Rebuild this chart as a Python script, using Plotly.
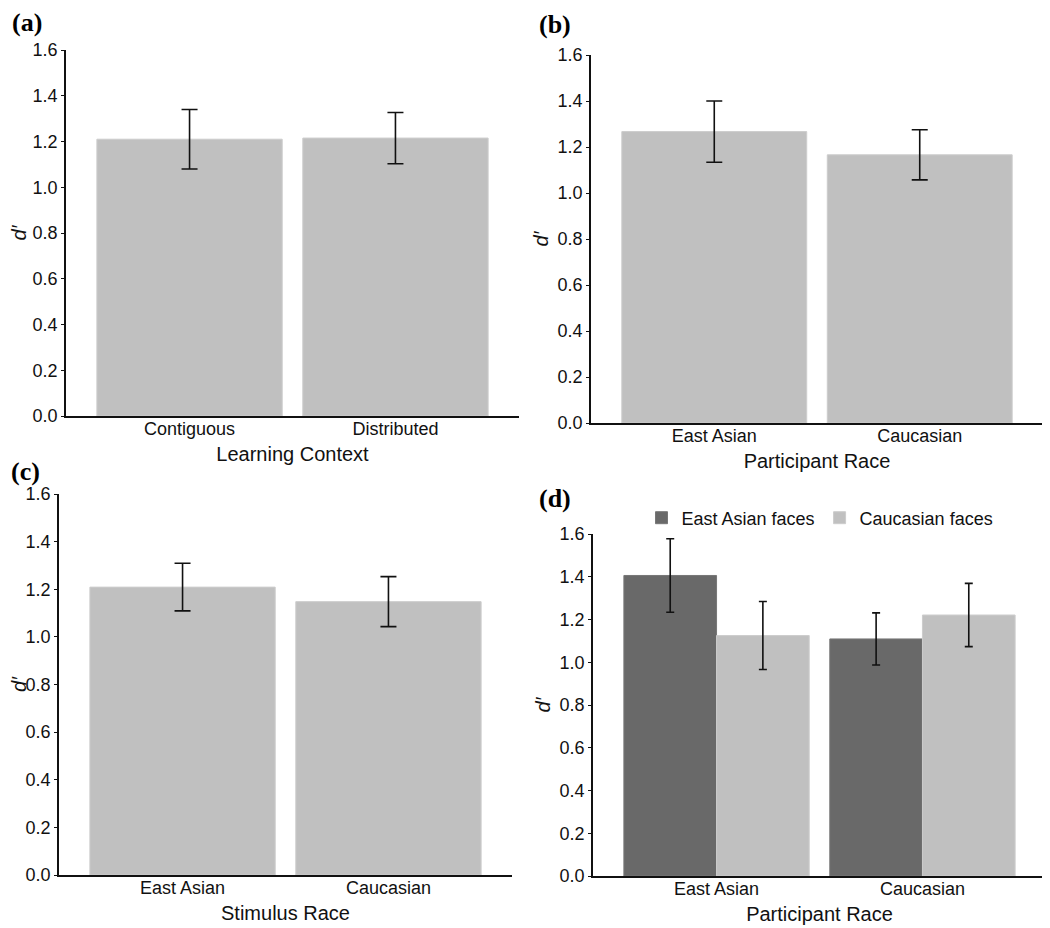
import plotly.graph_objects as go

# ---- data ----
ctx_categories = ["Contiguous", "Distributed"]
ctx_means = [1.21, 1.215]
ctx_err = [0.13, 0.112]

prace_categories = ["East Asian", "Caucasian"]
prace_means = [1.267, 1.166]
prace_err = [0.133, 0.109]

srace_categories = ["East Asian", "Caucasian"]
srace_means = [1.209, 1.148]
srace_err = [0.10, 0.105]

inter_categories = ["East Asian", "Caucasian"]
ea_faces_means = [1.406, 1.109]
ea_faces_err = [0.172, 0.122]
cau_faces_means = [1.125, 1.221]
cau_faces_err = [0.159, 0.148]

yticks = [0.0, 0.2, 0.4, 0.6, 0.8, 1.0, 1.2, 1.4, 1.6]

LIGHT = "#c0c0c0"
DARK = "#696969"
FONT = "Liberation Sans, Arial, Helvetica, sans-serif"

OFF = 8  # page body margin
W, H = 1050 - OFF, 928 - OFF

def px_x(v):
    return (v - OFF) / W

def px_y(v):
    return 1 - (v - OFF) / H

fig = go.Figure()

def add_bar(xcats, means, errs, color, edge, xa, ya, name=None, showlegend=False, capw=8):
    fig.add_trace(go.Bar(
        x=xcats, y=means, name=name, showlegend=showlegend,
        marker=dict(color=color, line=dict(color=edge, width=1)),
        error_y=dict(type="data", array=errs, visible=True, color="#111111",
                     thickness=1.6, width=capw),
        xaxis=xa, yaxis=ya,
    ))

add_bar(ctx_categories, ctx_means, ctx_err, LIGHT, "#cdcdcd", "x", "y", capw=8)
add_bar(prace_categories, prace_means, prace_err, LIGHT, "#cdcdcd", "x2", "y2", capw=8)
add_bar(srace_categories, srace_means, srace_err, LIGHT, "#cdcdcd", "x3", "y3", capw=8)
add_bar(inter_categories, ea_faces_means, ea_faces_err, DARK, "#777777", "x4", "y4",
        name="East Asian faces", showlegend=True, capw=4)
add_bar(inter_categories, cau_faces_means, cau_faces_err, LIGHT, "#cdcdcd", "x4", "y4",
        name="Caucasian faces", showlegend=True, capw=4)

panels = [
    ("xaxis", "yaxis", (66, 519), (50, 416), "Learning Context"),
    ("xaxis2", "yaxis2", (591, 1043), (55, 423), "Participant Race"),
    ("xaxis3", "yaxis3", (59, 512), (494, 875), "Stimulus Race"),
    ("xaxis4", "yaxis4", (593, 1046), (534, 876), "Participant Race"),
]

layout = dict(
    width=W, height=H,
    margin=dict(l=0, r=0, t=0, b=0, pad=0),
    paper_bgcolor="white", plot_bgcolor="white",
    barmode="group", bargap=0.1, bargroupgap=0,
    font=dict(family=FONT, size=18, color="#111111"),
    showlegend=True,
    legend=dict(orientation="h", x=px_x(820), y=px_y(518), xanchor="center",
                yanchor="middle", font=dict(size=18), itemwidth=30,
                bgcolor="rgba(0,0,0,0)"),
)

for i, (xa, ya, (x0, x1), (yt, yb), xtitle) in enumerate(panels):
    suffix = "" if i == 0 else str(i + 1)
    layout[xa] = dict(
        domain=[px_x(x0), px_x(x1)], anchor="y" + suffix,
        type="category", range=[-0.6, 1.6],
        showline=True, linecolor="#111111", linewidth=1.8,
        ticks="", showgrid=False, zeroline=False,
        tickfont=dict(size=18), automargin=False,
        ticklabelstandoff=-5,
        title=dict(text=xtitle, font=dict(size=20), standoff=9),
        fixedrange=True,
    )
    layout[ya] = dict(
        domain=[px_y(yb), px_y(yt)], anchor="x" + suffix,
        range=[0, 1.6], tickvals=yticks, tickformat=".1f",
        showline=True, linecolor="#111111", linewidth=1.8,
        ticks="outside", ticklen=3, tickwidth=1, tickcolor="#111111",
        showgrid=False, zeroline=False, automargin=False,
        tickfont=dict(size=18),
        title=dict(text="<i>d′</i>", font=dict(size=20), standoff=3),
        fixedrange=True,
    )

fig.update_layout(**layout)

letters = [("(a)", 11, 23), ("(b)", 538, 24), ("(c)", 10, 471), ("(d)", 538, 498)]
for txt, lx, ly in letters:
    fig.add_annotation(
        text="<b>" + txt + "</b>", x=px_x(lx), y=px_y(ly), xref="paper", yref="paper",
        xanchor="left", yanchor="middle", showarrow=False, borderpad=0,
        font=dict(family="Liberation Serif, Times New Roman, serif", size=26, color="#000000"),
    )

fig.write_html("out.html")
